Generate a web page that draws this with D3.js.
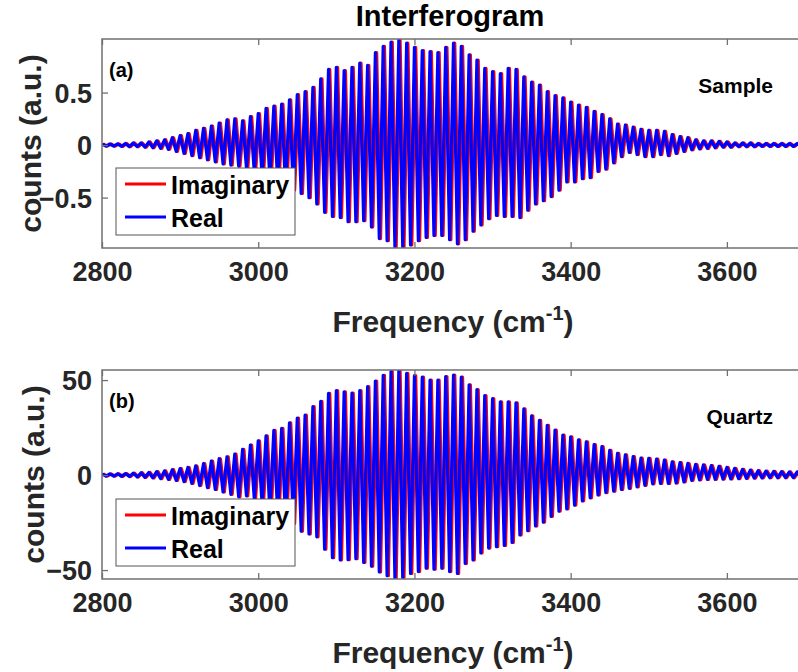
<!DOCTYPE html>
<html>
<head>
<meta charset="utf-8">
<script src="https://cdn.jsdelivr.net/npm/d3@7"></script>
<style>
  html, body { margin: 0; padding: 0; background: #ffffff; }
  svg { display: block; font-family: "Liberation Sans", Arial, Helvetica, sans-serif; }
</style>
</head>
<body>
<svg id="chart" width="798" height="672"></svg>
<script>
// ---------------- DATA ----------------
// One oscillation cycle every 10 cm^-1: the peak (max) and trough (min) of each cycle.
const cycleStart = 2800, cycleEnd = 3700, cycleStep = 10;
const cycleFreq = d3.range(cycleStart, cycleEnd, cycleStep);

// Panel (a) Sample: upper / lower envelope of each cycle
const sampleUpper = [
  0.01, 0.01, 0.012, 0.015, 0.02, 0.02, 0.03, 0.04, 0.05, 0.07,
  0.09, 0.11, 0.14, 0.16, 0.18, 0.21, 0.24, 0.25, 0.23, 0.27,
  0.30, 0.35, 0.37, 0.39, 0.43, 0.48, 0.51, 0.55, 0.63, 0.72,
  0.74, 0.71, 0.74, 0.78, 0.76, 0.88, 0.94, 0.98, 1.00, 0.97,
  0.93, 0.90, 0.89, 0.88, 0.93, 0.97, 0.94, 0.86, 0.81, 0.73,
  0.70, 0.68, 0.73, 0.72, 0.65, 0.60, 0.57, 0.51, 0.47, 0.45,
  0.41, 0.38, 0.36, 0.32, 0.29, 0.25, 0.20, 0.19, 0.17, 0.15,
  0.14, 0.14, 0.13, 0.10, 0.08, 0.07, 0.05, 0.04, 0.04, 0.035,
  0.03, 0.02, 0.02, 0.02, 0.015, 0.015, 0.015, 0.015, 0.015, 0.015
];
const sampleLower = [
  -0.01, -0.01, -0.012, -0.015, -0.015, -0.02, -0.025, -0.03, -0.04, -0.06,
  -0.08, -0.10, -0.12, -0.14, -0.16, -0.18, -0.19, -0.20, -0.22, -0.26,
  -0.30, -0.33, -0.36, -0.40, -0.43, -0.46, -0.50, -0.56, -0.64, -0.68,
  -0.69, -0.73, -0.73, -0.72, -0.78, -0.89, -0.91, -0.97, -0.98, -0.95,
  -0.91, -0.88, -0.86, -0.86, -0.90, -0.94, -0.90, -0.82, -0.76, -0.70,
  -0.67, -0.68, -0.68, -0.69, -0.62, -0.56, -0.53, -0.49, -0.43, -0.35,
  -0.35, -0.32, -0.31, -0.25, -0.23, -0.17, -0.11, -0.07, -0.09, -0.11,
  -0.11, -0.09, -0.10, -0.08, -0.06, -0.045, -0.035, -0.03, -0.025, -0.02,
  -0.02, -0.015, -0.015, -0.015, -0.012, -0.012, -0.012, -0.012, -0.012, -0.012
];

// Panel (b) Quartz: upper / lower envelope of each cycle
const quartzUpper = [
  0.6, 0.6, 0.7, 0.8, 1.0, 1.2, 1.4, 1.8, 2.2, 2.8,
  3.4, 4.0, 4.8, 6.0, 7.4, 8.6, 9.6, 11.0, 13.5, 15.8,
  18.0, 20.6, 23.5, 24.6, 27.5, 30.0, 31.5, 36.0, 38.8, 43.0,
  44.5, 43.8, 43.2, 44.5, 46.5, 49.5, 52.5, 54.5, 55.0, 53.5,
  52.3, 51.5, 50.0, 50.0, 51.8, 52.6, 51.5, 47.5, 45.0, 41.8,
  40.2, 38.6, 38.6, 38.0, 34.8, 31.2, 28.8, 26.2, 23.7, 21.0,
  20.1, 18.6, 17.5, 16.0, 15.0, 13.0, 11.4, 10.6, 9.7, 8.9,
  8.8, 8.4, 7.9, 7.0, 6.6, 6.1, 5.6, 5.3, 5.0, 4.6,
  4.0, 3.5, 3.0, 2.6, 2.3, 2.1, 1.9, 1.8, 1.7, 1.7
];
const quartzLower = [
  -0.6, -0.6, -0.7, -0.8, -1.0, -1.2, -1.5, -1.8, -2.3, -2.8,
  -3.4, -4.4, -5.5, -6.6, -7.6, -8.9, -10.2, -11.5, -11.0, -12.5,
  -16.0, -19.5, -21.5, -24.0, -25.5, -29.5, -31.0, -32.5, -39.0, -43.5,
  -44.7, -44.5, -44.0, -46.0, -48.0, -51.0, -53.0, -54.3, -54.0, -51.8,
  -50.8, -49.0, -49.5, -49.0, -50.8, -51.8, -46.5, -44.7, -41.0, -38.4,
  -37.7, -37.0, -35.5, -31.5, -29.3, -26.8, -24.8, -21.8, -19.0, -17.8,
  -15.8, -13.6, -12.0, -10.5, -9.2, -8.5, -7.6, -7.0, -6.2, -5.4,
  -4.6, -4.4, -4.4, -4.2, -3.6, -2.8, -2.5, -2.3, -2.2, -2.1,
  -2.0, -1.9, -1.7, -1.6, -1.5, -1.4, -1.4, -1.4, -1.4, -1.4
];

// Offsets (cm^-1) of each series' peak inside a cycle
const realPhase = 0, imagPhase = 1.6;

const xTicks = [2800, 3000, 3200, 3400, 3600];
const sampleTicks = [-0.5, 0, 0.5];
const quartzTicks = [-50, 0, 50];
const seriesNames = ["Imaginary", "Real"];
const seriesColors = ["#ff0000", "#0000ff"];

// ---------------- DRAWING ----------------
const svg = d3.select("#chart");
const axisColor = "#707070";
const textColor = "#262626";

svg.append("text")
  .attr("x", 450).attr("y", 26)
  .attr("text-anchor", "middle")
  .attr("font-size", 29).attr("font-weight", "bold").attr("fill", "#000")
  .text("Interferogram");

function zigzag(upper, lower, phase) {
  const pts = [];
  cycleFreq.forEach((f, i) => {
    pts.push([f + phase, upper[i]]);
    pts.push([f + phase + cycleStep / 2, lower[i]]);
  });
  return pts;
}

function panel(cfg) {
  const left = 102, right = 805, top = cfg.top, bottom = cfg.top + 209;
  const x = d3.scaleLinear().domain([cycleStart, cycleEnd]).range([left, right]);
  const y = d3.scaleLinear().domain(cfg.yDomain).range([bottom, top]);
  const g = svg.append("g");

  const clipId = "clip" + cfg.id;
  svg.append("clipPath").attr("id", clipId)
    .append("rect").attr("x", left).attr("y", top)
    .attr("width", right - left).attr("height", bottom - top);

  const line = d3.line().x(d => x(d[0])).y(d => y(d[1]));
  const plot = g.append("g").attr("clip-path", `url(#${clipId})`);
  plot.append("path")
    .attr("d", line(zigzag(cfg.upper, cfg.lower, imagPhase)))
    .attr("fill", "none").attr("stroke", seriesColors[0])
    .attr("stroke-width", 3.2).attr("stroke-linejoin", "round");
  plot.append("path")
    .attr("d", line(zigzag(cfg.upper, cfg.lower, realPhase)))
    .attr("fill", "none").attr("stroke", seriesColors[1])
    .attr("stroke-width", 3.2).attr("stroke-linejoin", "round");

  // axes (ticks inside, matlab style)
  const xb = g.append("g").attr("transform", `translate(0,${bottom})`)
    .call(d3.axisBottom(x).tickValues(xTicks).tickSizeInner(-6).tickSizeOuter(0).tickPadding(14)
      .tickFormat(d3.format("d")));
  const xt = g.append("g").attr("transform", `translate(0,${top})`)
    .call(d3.axisTop(x).tickValues(xTicks).tickSizeInner(-6).tickSizeOuter(0).tickFormat(""));
  const yl = g.append("g").attr("transform", `translate(${left},0)`)
    .call(d3.axisLeft(y).tickValues(cfg.yTicks).tickSizeInner(-6).tickSizeOuter(0).tickPadding(10)
      .tickFormat(d3.format(cfg.fmt)));
  [xb, xt, yl].forEach(a => {
    a.select(".domain").remove();
    a.selectAll(".tick line").attr("stroke", axisColor).attr("stroke-width", 1.3);
    a.selectAll(".tick text").attr("fill", textColor).attr("font-size", 27)
      .attr("font-weight", "bold").attr("font-family", "Liberation Sans, Arial, sans-serif");
  });
  xb.selectAll(".tick text").attr("dy", "0.71em");
  yl.selectAll(".tick text").attr("dy", "0.36em");
  g.append("rect").attr("x", left).attr("y", top)
    .attr("width", right - left).attr("height", bottom - top)
    .attr("fill", "none").attr("stroke", axisColor).attr("stroke-width", 1.5);

  // x label
  const xl = g.append("text")
    .attr("x", 453).attr("y", bottom + 84)
    .attr("text-anchor", "middle")
    .attr("font-size", 30).attr("font-weight", "bold").attr("fill", textColor);
  xl.append("tspan").text("Frequency (cm");
  xl.append("tspan").attr("font-size", 20).attr("dy", -12).text("-1");
  xl.append("tspan").attr("dy", 12).text(")");

  // y label
  g.append("text")
    .attr("transform", `translate(${cfg.yLabelX},${(top + bottom) / 2}) rotate(-90)`)
    .attr("text-anchor", "middle")
    .attr("font-size", 30).attr("font-weight", "bold").attr("fill", textColor)
    .text("counts (a.u.)");

  // panel letter
  g.append("text").attr("x", 109).attr("y", top + 38)
    .attr("font-size", 20).attr("font-weight", "bold").attr("fill", "#000")
    .text(cfg.letter);

  // annotation
  g.append("text").attr("x", 773).attr("y", top + 54)
    .attr("text-anchor", "end")
    .attr("font-size", 21).attr("font-weight", "bold").attr("fill", "#000")
    .text(cfg.label);

  // legend
  const lg = g.append("g").attr("transform", `translate(116,${top + 129})`);
  lg.append("rect").attr("x", 0).attr("y", 0).attr("width", 179).attr("height", 67)
    .attr("fill", "#fff").attr("stroke", "#555").attr("stroke-width", 1);
  seriesNames.forEach((name, i) => {
    const cy = 16 + i * 33;
    lg.append("line").attr("x1", 9).attr("x2", 50).attr("y1", cy).attr("y2", cy)
      .attr("stroke", seriesColors[i]).attr("stroke-width", 3);
    lg.append("text").attr("x", 55).attr("y", cy + 10)
      .attr("font-size", 25).attr("font-weight", "bold").attr("fill", "#000")
      .text(name);
  });
}

panel({ id: "a", top: 39, yDomain: [-0.98, 1.01], yTicks: sampleTicks, fmt: "~g",
  upper: sampleUpper, lower: sampleLower, letter: "(a)", label: "Sample", yLabelX: 41 });
panel({ id: "b", top: 370, yDomain: [-54.7, 55.3], yTicks: quartzTicks, fmt: "~g",
  upper: quartzUpper, lower: quartzLower, letter: "(b)", label: "Quartz", yLabelX: 44 });
</script>
</body>
</html>
